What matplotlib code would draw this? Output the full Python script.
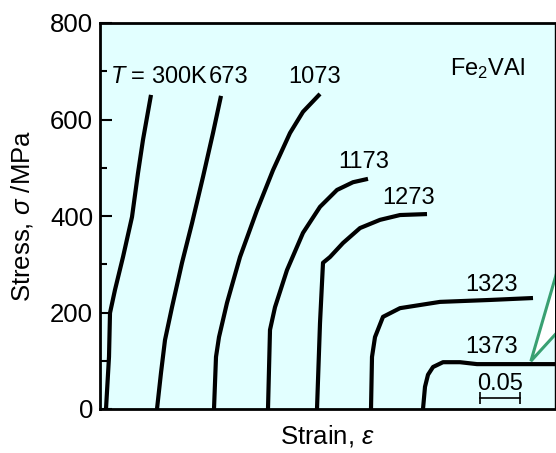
# Stress-strain curves of Fe2VAl at different temperatures

import numpy as np
import matplotlib
matplotlib.use('Agg')
import matplotlib.pyplot as plt
from matplotlib.patches import Polygon

plt.rcParams['font.family'] = ['Liberation Sans', 'DejaVu Sans']
plt.rcParams['mathtext.fontset'] = 'custom'
plt.rcParams['mathtext.rm'] = 'Liberation Sans'
plt.rcParams['mathtext.it'] = 'Liberation Sans:italic'

# Temperatures (K) and the strain offset of each curve on the axis
temps = ['300K', '673', '1073', '1173', '1273', '1323', '1373']
offsets = [0.0075, 0.07125, 0.1425, 0.21, 0.27125, 0.33875, 0.40375]

# Strain (relative to curve start) and stress (MPa)
strain_300 = [0, 0.00375, 0.005, 0.01125, 0.02125, 0.0325, 0.04, 0.04625, 0.05625]
stress_300 = [0, 108, 199, 247, 315, 398, 489, 558, 651]

strain_673 = [0, 0.005, 0.01, 0.01875, 0.03125, 0.04375, 0.0575, 0.07, 0.08]
stress_673 = [0, 75, 143, 211, 303, 385, 481, 572, 649]

strain_1073 = [0, 0.0025, 0.00625, 0.01625, 0.0325, 0.05375, 0.07375, 0.095,
               0.11125, 0.1325]
stress_1073 = [0, 108, 149, 220, 315, 412, 495, 572, 616, 653]

strain_1173 = [0, 0.0025, 0.00875, 0.02375, 0.04375, 0.065, 0.08625, 0.10625, 0.125]
stress_1173 = [0, 164, 211, 288, 365, 419, 454, 470, 477]

strain_1273 = [0, 0.00375, 0.0075, 0.01625, 0.0325, 0.05375, 0.07875, 0.10375, 0.1375]
stress_1273 = [0, 178, 303, 315, 344, 375, 392, 402, 404]

strain_1323 = [0, 0.00125, 0.005, 0.015, 0.03625, 0.08625, 0.14875, 0.2025]
stress_1323 = [0, 108, 149, 191, 209, 222, 226, 230]

strain_1373 = [0, 0.0025, 0.00625, 0.0125, 0.025, 0.04625, 0.0675, 0.09625, 0.17125]
stress_1373 = [0, 46, 71, 87, 97, 97, 93, 93, 93]

strains = [strain_300, strain_673, strain_1073, strain_1173,
           strain_1273, strain_1323, strain_1373]
stresses = [stress_300, stress_673, stress_1073, stress_1173,
            stress_1273, stress_1323, stress_1373]

fig = plt.figure(figsize=(5.56, 4.53), dpi=100)
ax = fig.add_axes([100 / 556, 44 / 453, 455 / 556, 386 / 453])
ax.set_facecolor('#e2ffff')

# Draw the curves
for off, eps, sig in zip(offsets, strains, stresses):
    ax.plot(np.array(eps) + off, sig, color='black', lw=3,
            solid_joinstyle='round', solid_capstyle='butt')

ax.set_xlim(0, 0.56875)
ax.set_ylim(0, 800)

# Temperature labels
fs = 17
ax.text(0.0125, 676, '$T$ = 300K', fontsize=fs)
ax.text(0.1355, 676, '673', fontsize=fs)
ax.text(0.235, 676, '1073', fontsize=fs)
ax.text(0.2975, 499, '1173', fontsize=fs)
ax.text(0.3525, 425, '1273', fontsize=fs)
ax.text(0.45625, 245, '1323', fontsize=fs)
ax.text(0.45625, 116, '1373', fontsize=fs)
ax.text(0.4375, 692, r'Fe$_{\mathrm{2}}$VAl', fontsize=fs)

# Scale bar for 0.05 strain
bar_x = [0.475, 0.525]
bar_y = [23, 23]
ax.plot(bar_x, bar_y, color='black', lw=1.2)
ax.plot(bar_x, bar_y, ls='none', marker='|', ms=8, mew=1.2, color='black')
ax.text(0.5, 39, '0.05', fontsize=fs, ha='center')

# Green callout pointing at the 1373 K curve
callout = Polygon([(0.947, 0.124), (1.06, 0.58), (1.06, 0.27)],
                  closed=True, transform=ax.transAxes, facecolor='white',
                  edgecolor='#39a072', lw=2.2, clip_on=True, zorder=3)
ax.add_patch(callout)

# Axes styling
for side in ['left', 'bottom', 'top']:
    ax.spines[side].set_linewidth(2)
ax.spines['right'].set_linewidth(1)
ax.set_xticks([])
ax.set_yticks([0, 200, 400, 600, 800])
ax.set_yticks([100, 300, 500, 700], minor=True)
ax.tick_params(axis='y', which='major', direction='in', length=8.5, width=1.5,
               labelsize=18.5, pad=5)
ax.tick_params(axis='y', which='minor', direction='in', length=5, width=1.5)

ax.set_xlabel('Strain, $\\varepsilon$', fontsize=18.5, labelpad=10)
ax.set_ylabel('Stress, $\\sigma$ /MPa', fontsize=18.5, labelpad=11)

plt.savefig('out.png', dpi=100)
